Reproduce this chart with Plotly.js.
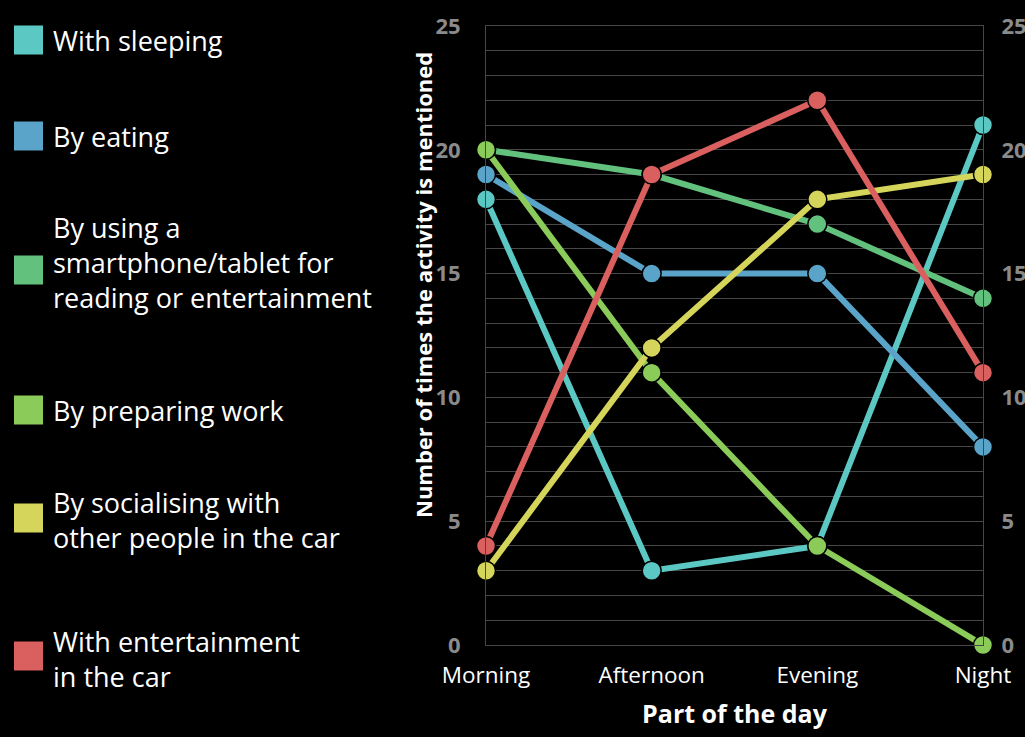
<!DOCTYPE html>
<html>
<head>
<meta charset="utf-8">
<script src="https://cdn.plot.ly/plotly-3.0.1.min.js"></script>
<style>
html,body{margin:0;padding:0;background:#000;}
#chart{width:1025px;height:737px;}
</style>
</head>
<body>
<div id="chart"></div>
<script>
var categories = ["Morning", "Afternoon", "Evening", "Night"];
var seriesNames = [
  "With sleeping",
  "By eating",
  "By using a<br>smartphone/tablet for<br>reading or entertainment",
  "By preparing work",
  "By socialising with<br>other people in the car",
  "With entertainment<br>in the car"
];
var sleeping = [18, 3, 4, 21];
var eating = [19, 15, 15, 8];
var smartphone = [20, 19, 17, 14];
var preparingWork = [20, 11, 4, 0];
var socialising = [3, 12, 18, 19];
var entertainment = [4, 19, 22, 11];
var yTickVals = [0, 5, 10, 15, 20, 25];

var seriesValues = [sleeping, eating, smartphone, preparingWork, socialising, entertainment];
var colors = ["#5cc8c4", "#5ba4c9", "#62c17d", "#8bcb5a", "#d5d45b", "#d9605f"];

var traces = seriesValues.map(function (vals, i) {
  return {
    type: "scatter",
    mode: "lines+markers",
    x: categories,
    y: vals,
    yaxis: i === seriesValues.length - 1 ? "y2" : "y",
    name: seriesNames[i],
    line: {color: colors[i], width: 6},
    marker: {color: colors[i], size: 19, line: {color: "#000", width: 1.5}},
    cliponaxis: false,
    showlegend: false
  };
});

// custom legend (squares + labels)
var legendCenters = [40, 136, 270, 410, 518, 656];
var textCenters = [40, 136, 262, 410, 520, 659];
var plotL = 486, plotR = 983, plotT = 26, plotB = 645;
function px2x(p) { return (p - plotL) / (plotR - plotL); }
function py2y(p) { return (plotB - p) / (plotB - plotT); }
var shapes = [], annotations = [];
seriesNames.forEach(function (n, i) {
  shapes.push({
    type: "rect", xref: "paper", yref: "paper",
    x0: px2x(14), x1: px2x(43),
    y0: py2y(legendCenters[i] + 14.5), y1: py2y(legendCenters[i] - 14.5),
    fillcolor: colors[i], line: {width: 0}
  });
  annotations.push({
    xref: "paper", yref: "paper",
    x: px2x(51), y: py2y(textCenters[i]),
    xanchor: "left", yanchor: "middle", align: "left",
    showarrow: false, text: n,
    font: {family: "Open Sans", size: 27, color: "#ffffff"}
  });
});
annotations.push({
  xref: "paper", yref: "paper",
  x: px2x(423), y: py2y(285),
  xanchor: "center", yanchor: "middle", textangle: -90,
  showarrow: false, text: "<b>Number of times the activity is mentioned</b>",
  font: {family: "Open Sans", size: 22, color: "#ffffff"}
});

var gridColor = "#474747";
var layout = {
  width: 1025, height: 737,
  paper_bgcolor: "#000", plot_bgcolor: "#000",
  margin: {l: plotL, r: 1025 - plotR, t: plotT, b: 737 - plotB, pad: 0},
  showlegend: false,
  xaxis: {
    type: "category", range: [0, 3],
    showgrid: false, zeroline: false,
    showline: true, mirror: true, linecolor: gridColor, linewidth: 1,
    ticks: "outside", ticklen: 10, tickcolor: "rgba(0,0,0,0)",
    tickfont: {family: "Open Sans", size: 22.5, color: "#ffffff"},
    title: {text: "<b>Part of the day</b>", standoff: 16,
      font: {family: "Open Sans", size: 25, color: "#ffffff"}}
  },
  yaxis: {
    range: [0, 25], tickvals: yTickVals,
    showgrid: true, gridcolor: gridColor, gridwidth: 1,
    minor: {dtick: 1, showgrid: true, gridcolor: gridColor, gridwidth: 1},
    zeroline: false, showline: true, mirror: true, linecolor: gridColor, linewidth: 1,
    ticks: "outside", ticklen: 20, tickcolor: "rgba(0,0,0,0)",
    tickfont: {family: "Open Sans", size: 22, color: "#8a8a8a", weight: "bold"}
  },
  yaxis2: {
    overlaying: "y", side: "right", anchor: "x",
    range: [0, 25], tickvals: yTickVals,
    showgrid: false, zeroline: false, showline: false,
    ticks: "outside", ticklen: 13, tickcolor: "rgba(0,0,0,0)",
    tickfont: {family: "Open Sans", size: 22, color: "#8a8a8a", weight: "bold"}
  },
  shapes: shapes,
  annotations: annotations
};

Plotly.newPlot("chart", traces, layout, {displayModeBar: false, staticPlot: true});
</script>
</body>
</html>
